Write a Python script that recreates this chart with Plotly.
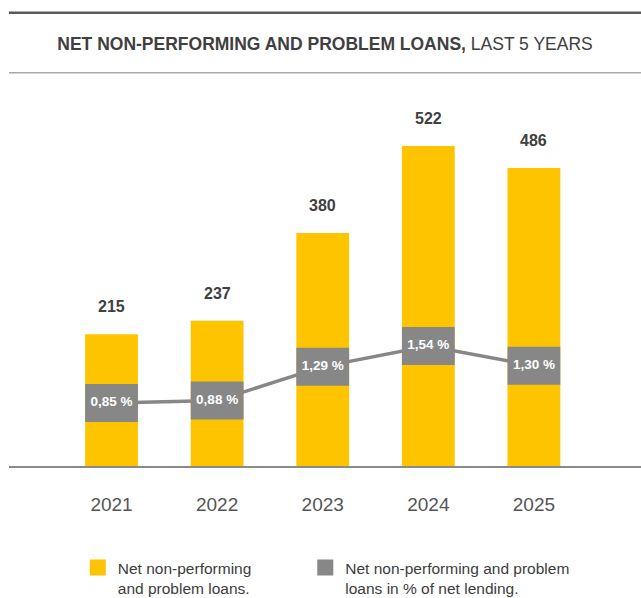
import plotly.graph_objects as go

# Net non-performing and problem loans (MSEK) and share of net lending (%)
years = ["2021", "2022", "2023", "2024", "2025"]
loans = [215, 237, 380, 522, 486]
pct_of_lending = [0.85, 0.88, 1.29, 1.54, 1.30]
pct_labels = ["0,85 %", "0,88 %", "1,29 %", "1,54 %", "1,30 %"]

title_bold = "NET NON-PERFORMING AND PROBLEM LOANS,"
title_rest = " LAST 5 YEARS"
legend_loans = "Net non-performing<br>and problem loans."
legend_pct = "Net non-performing and problem<br>loans in % of net lending."

YELLOW = "#FFC400"
GREY = "#878787"
TEXT = "#404040"
FONT = "Liberation Sans, Arial, sans-serif"

W, H = 641, 598
M_L, M_R, M_T, M_B = 9, 0, 90, 132
PLOT_H = H - M_T - M_B

# axis ranges
x_range = [-0.971, 5.014]
y_range = [0, 613.4]
pct_range = [0.087, 4.639]
box_half = 0.23  # half height of the percentage label box, in % units


def paper_y(px):
    """Convert a pixel row of the page to paper y."""
    return (H - M_B - px) / PLOT_H


fig = go.Figure()

# yellow loan bars
fig.add_trace(go.Bar(
    x=years, y=loans, marker=dict(color=YELLOW, line=dict(width=0)),
    showlegend=False, hoverinfo="skip", yaxis="y",
))

# connecting line for the percentage series (drawn under the boxes)
fig.add_trace(go.Scatter(
    x=years, y=pct_of_lending, mode="lines",
    line=dict(color=GREY, width=3.5),
    showlegend=False, hoverinfo="skip", yaxis="y2",
))

# grey percentage boxes sitting on the bars
fig.add_trace(go.Bar(
    x=years, y=[2 * box_half] * len(years),
    base=[p - box_half for p in pct_of_lending],
    marker=dict(color=GREY, line=dict(width=0)),
    showlegend=False, hoverinfo="skip", yaxis="y3",
))
fig.add_trace(go.Scatter(
    x=years, y=pct_of_lending, mode="text", text=pct_labels,
    textposition="middle center",
    textfont=dict(color="white", size=13.5, family=FONT, weight="bold"),
    showlegend=False, hoverinfo="skip", yaxis="y3",
))

# legend entries, one legend box each
fig.add_trace(go.Scatter(
    x=[None], y=[None], mode="markers", name=legend_loans, legend="legend",
    marker=dict(symbol="square", size=16, color=YELLOW),
))
fig.add_trace(go.Scatter(
    x=[None], y=[None], mode="markers", name=legend_pct, legend="legend2",
    marker=dict(symbol="square", size=16, color=GREY),
))

# value labels above the bars (category index positions)
annotations = [
    dict(x=i, y=v, xref="x", yref="y", text=f"<b>{v}</b>", showarrow=False,
         yanchor="middle", yshift=27.5,
         font=dict(size=16, color=TEXT, family=FONT))
    for i, v in enumerate(loans)
]

shapes = [
    dict(type="line", xref="paper", yref="paper", x0=0, x1=1,
         y0=paper_y(12.7), y1=paper_y(12.7),
         line=dict(color="#5a5a5a", width=2.5)),
    dict(type="line", xref="paper", yref="paper", x0=0, x1=1,
         y0=paper_y(72.7), y1=paper_y(72.7),
         line=dict(color="#a8a8a8", width=1.5)),
]

legend_common = dict(
    orientation="h", xref="container", yref="container",
    y=1 - 551 / H, xanchor="left", yanchor="top", valign="top",
    font=dict(size=15.5, color="#3c3c3c", family=FONT),
    bgcolor="rgba(0,0,0,0)", borderwidth=0,
)

fig.update_layout(
    width=W, height=H, autosize=False,
    margin=dict(l=M_L, r=M_R, t=M_T, b=M_B, pad=0),
    paper_bgcolor="white", plot_bgcolor="white",
    font=dict(family=FONT, color=TEXT),
    barmode="overlay", bargap=0.5,
    title=dict(
        text=f"<b>{title_bold}</b>{title_rest}",
        font=dict(size=17.5, color=TEXT, family=FONT),
        xref="container", yref="container",
        x=325 / W, y=1 - 43.5 / H, xanchor="center", yanchor="middle",
    ),
    xaxis=dict(
        type="category", range=x_range, showgrid=False, zeroline=False,
        showline=True, linecolor="#8a8a8a", linewidth=1.5,
        ticks="", ticklabelstandoff=20,
        tickfont=dict(size=19, color="#555555", family=FONT),
        fixedrange=True,
    ),
    yaxis=dict(range=y_range, visible=False, fixedrange=True),
    yaxis2=dict(range=pct_range, overlaying="y", visible=False, fixedrange=True),
    yaxis3=dict(range=pct_range, overlaying="y", visible=False, fixedrange=True),
    legend=dict(x=77.8 / W, **legend_common),
    legend2=dict(x=305.3 / W, **legend_common),
    annotations=annotations,
    shapes=shapes,
)

fig.write_html("out.html")
